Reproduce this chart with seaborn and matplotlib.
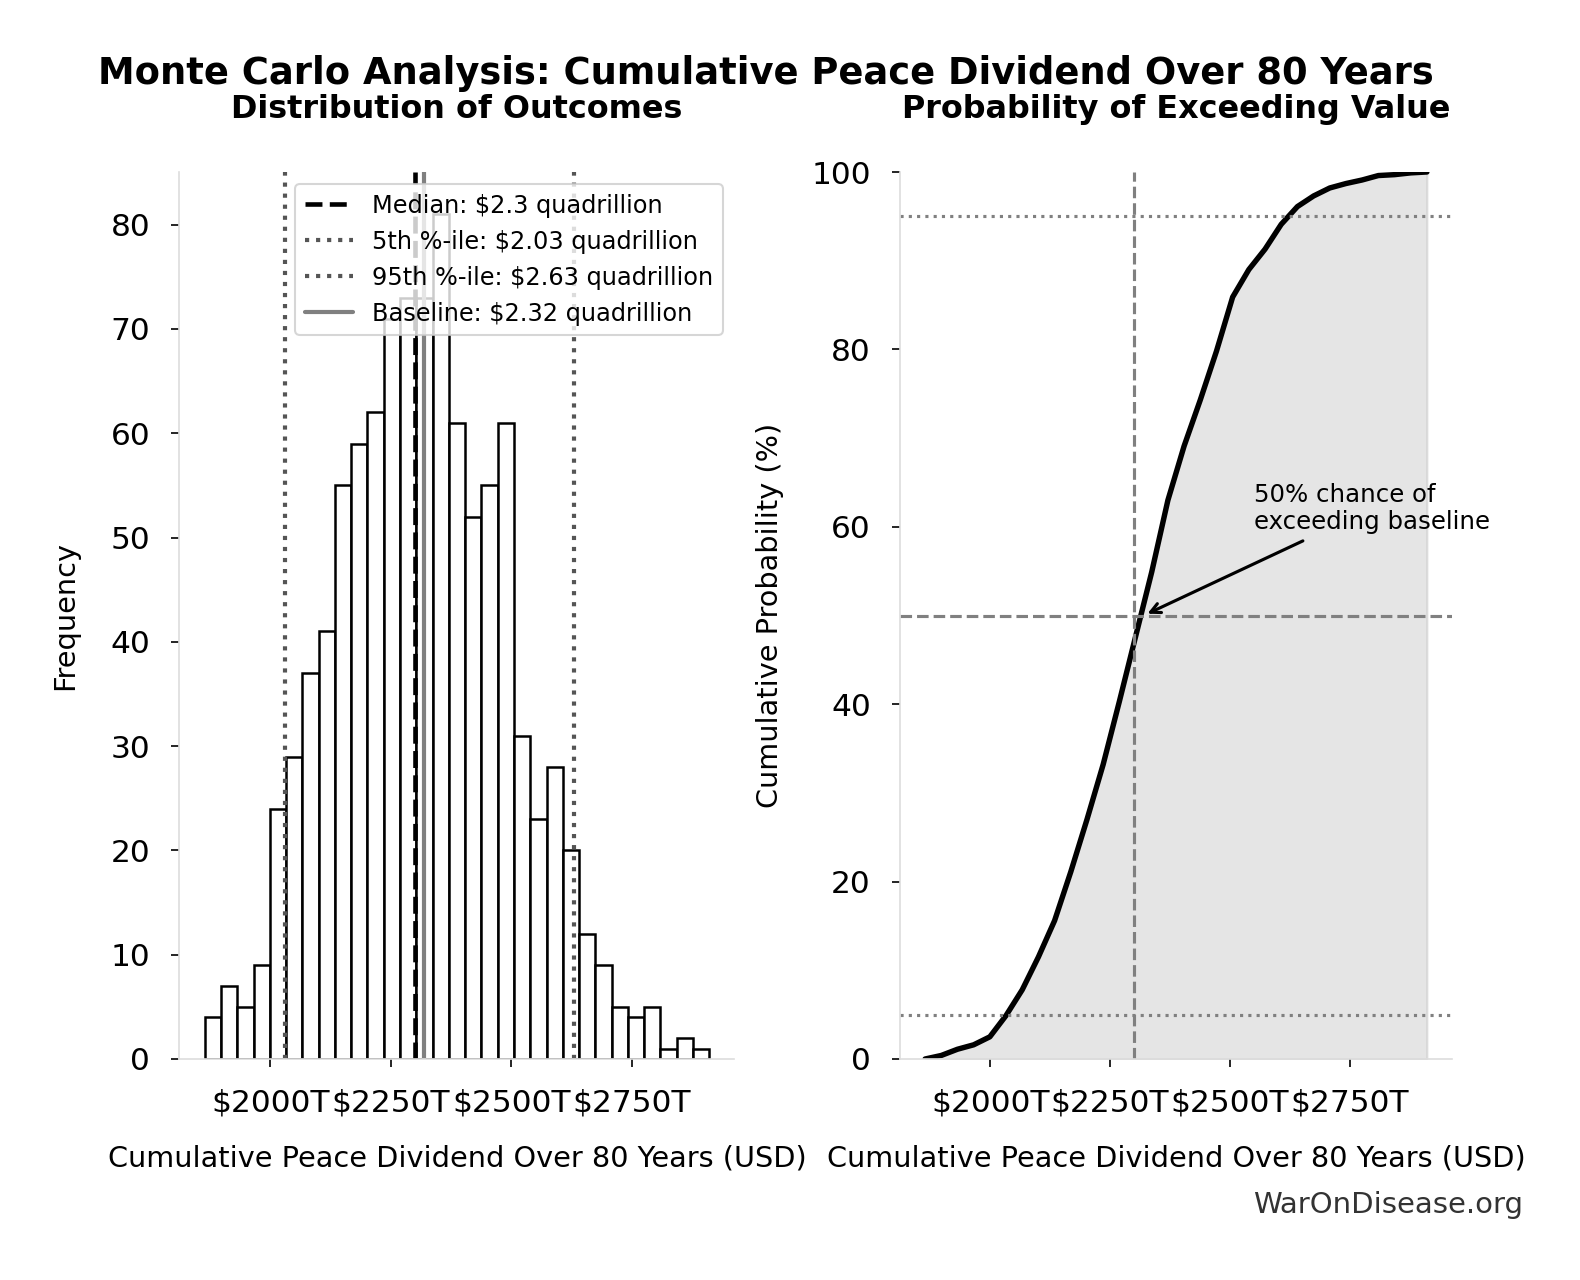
import numpy as np
import pandas as pd
import matplotlib
matplotlib.use("Agg")
import matplotlib.pyplot as plt
from matplotlib.ticker import FuncFormatter, MultipleLocator
import seaborn as sns

# histogram of the 1000 simulated outcomes (trillion USD)
sample_min = 1864
sample_max = 2911
counts = [4, 7, 5, 9, 24, 29, 37, 41, 55, 59, 62, 71, 73, 73, 81, 61,
          52, 55, 61, 31, 23, 28, 20, 12, 9, 5, 4, 5, 1, 2, 1]

median = 2300
p5 = 2030
p95 = 2630
baseline = 2320

sns.set_style("ticks", {"axes.edgecolor": "#dddddd", "xtick.color": "black",
                        "ytick.color": "black", "text.color": "black",
                        "axes.labelcolor": "black"})
plt.rcParams["font.family"] = ["DejaVu Sans"]

edges = np.linspace(sample_min, sample_max, len(counts) + 1)
centers = (edges[:-1] + edges[1:]) / 2
cum_pct = np.concatenate([[0], np.cumsum(counts)]) / sum(counts) * 100
hist_df = pd.DataFrame({"value": centers, "count": counts})

W, H = 1581, 1280
fig = plt.figure(figsize=(W / 150, H / 150), dpi=150)
ax1 = fig.add_axes([179.5 / W, 1 - 1059 / H, 555 / W, 887 / H])
ax2 = fig.add_axes([900 / W, 1 - 1059 / H, 552 / W, 887 / H])

money = FuncFormatter(lambda x, p: f"${x:.0f}T")

# LEFT: histogram
sns.histplot(data=hist_df, x="value", weights="count", bins=list(edges), ax=ax1,
             color="white", edgecolor="black", linewidth=1.2, alpha=1)
ax1.axvline(median, color="black", ls="--", lw=2.2, label=f"Median: ${median/1000:.1f} quadrillion")
ax1.axvline(p5, color="#555555", ls=":", lw=2, label=f"5th %-ile: ${p5/1000:.2f} quadrillion")
ax1.axvline(p95, color="#555555", ls=":", lw=2, label=f"95th %-ile: ${p95/1000:.2f} quadrillion")
ax1.axvline(baseline, color="gray", ls="-", lw=2, label=f"Baseline: ${baseline/1000:.2f} quadrillion")
ax1.set_title("Distribution of Outcomes", fontsize=15.3, fontweight="bold", pad=26)
ax1.set_xlabel("Cumulative Peace Dividend Over 80 Years (USD)", fontsize=13.8, labelpad=13)
ax1.set_ylabel("Frequency", fontsize=13.8, labelpad=15)
ax1.legend(loc="upper right", fontsize=11.5)

# RIGHT: cumulative curve
ax2.fill_between(edges, cum_pct, color="gray", alpha=0.2)
sns.lineplot(x=edges, y=cum_pct, color="black", lw=2.6, ax=ax2)
ax2.axvline(median, color="gray", ls="--", lw=1.5)
ax2.axhline(50, color="gray", ls="--", lw=1.5)
ax2.axhline(5, color="gray", ls=":", lw=1.5)
ax2.axhline(95, color="gray", ls=":", lw=1.5)
ax2.annotate("50% chance of\nexceeding baseline", xy=(baseline, 50), xytext=(2550, 59.7),
             fontsize=11.7, arrowprops=dict(arrowstyle="->", color="black", lw=1.5))
ax2.set_ylim(0, 100)
ax2.set_title("Probability of Exceeding Value", fontsize=15.3, fontweight="bold", pad=26)
ax2.set_xlabel("Cumulative Peace Dividend Over 80 Years (USD)", fontsize=13.8, labelpad=13)
ax2.set_ylabel("Cumulative Probability (%)", fontsize=13.8, labelpad=13)

for ax in (ax1, ax2):
    ax.xaxis.set_major_locator(MultipleLocator(250))
    ax.xaxis.set_major_formatter(money)
    ax.tick_params(labelsize=15, pad=10, length=4)
    sns.despine(ax=ax)

fig.text(766 / W, 1 - 74 / H, "Monte Carlo Analysis: Cumulative Peace Dividend Over 80 Years",
         ha="center", va="center", fontsize=17.7, fontweight="bold")
fig.text(1523 / W, 1 - 1205 / H, "WarOnDisease.org", ha="right", va="center",
         fontsize=14, color="#333333")

fig.savefig("out.png", dpi=150)
